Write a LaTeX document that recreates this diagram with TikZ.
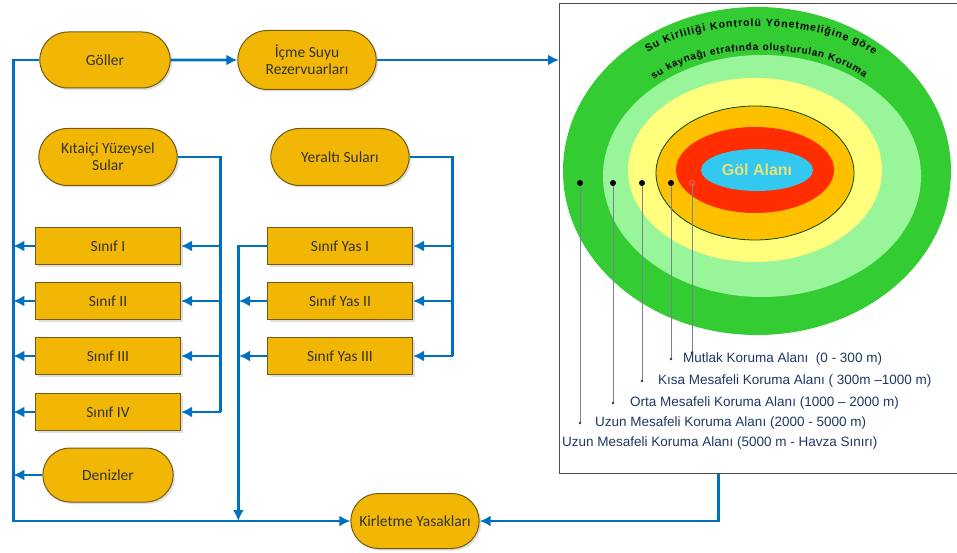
\documentclass[tikz,border=0pt]{standalone}
\usepackage{fontspec}
\setmainfont{Carlito}
\newfontfamily\arialfont{Liberation Sans}
\usepackage{tikz}
\usetikzlibrary{arrows.meta,positioning,calc,shapes.misc,shadows,decorations.text}
\usepackage{xcolor}
\definecolor{flowblue}{RGB}{0,112,192}
\definecolor{boxfill}{RGB}{242,183,5}
\definecolor{boxedge}{RGB}{115,90,20}
\definecolor{darkgreen}{RGB}{51,204,51}
\definecolor{lightgreen}{RGB}{153,245,153}
\definecolor{paleyellow}{RGB}{255,255,125}
\definecolor{ringorange}{RGB}{255,192,0}
\definecolor{ringred}{RGB}{255,45,0}
\definecolor{lakeblue}{RGB}{50,200,240}
\definecolor{lakelabel}{RGB}{232,226,120}
\definecolor{labelblue}{RGB}{31,56,100}
\definecolor{leader}{RGB}{120,130,150}

\begin{document}
\begin{tikzpicture}[x=1pt, y=-1pt,
    pill/.style={rounded rectangle, draw=boxedge, line width=1pt, fill=boxfill, minimum width=#1, minimum height=57pt, font=\fontsize{15.5}{17}\selectfont, text=black!80, align=center, drop shadow={opacity=0.25, shadow xshift=2pt, shadow yshift=-2pt}},
    pill/.default=145pt,
    cls/.style={rectangle, draw=boxedge, line width=1pt, fill=boxfill, minimum width=145pt, minimum height=37pt, font=\fontsize{15.5}{17}\selectfont, text=black!80, drop shadow={opacity=0.25, shadow xshift=2pt, shadow yshift=-2pt}},
    wire/.style={flowblue, line width=2.6pt},
    arr/.style={wire, -{Latex[length=11pt, width=11pt]}},
    lbl/.style={anchor=west, inner sep=0pt, font=\arialfont\fontsize{13.5}{15}\selectfont, text=labelblue},
    lead/.style={leader, line width=0.8pt}
]
\useasboundingbox (0,0) rectangle (957,553);

\node[pill=137pt, minimum height=56pt] (goller) at (105,60) {Göller};
\node[pill, minimum height=59pt] (icme) at (307,60) {İçme Suyu\\Rezervuarları};
\node[pill] (kitaici) at (108,157) {Kıtaiçi Yüzeysel\\Sular};
\node[pill] (yeralti) at (340,157) {Yeraltı Suları};
\node[cls] (s1) at (108,246) {Sınıf I};
\node[cls] (s2) at (108,301) {Sınıf II};
\node[cls] (s3) at (108,356) {Sınıf III};
\node[cls] (s4) at (108,412) {Sınıf IV};
\node[pill=137pt, minimum height=54pt] (deniz) at (108,475) {Denizler};
\node[cls] (y1) at (340,246) {Sınıf Yas I};
\node[cls] (y2) at (340,301) {Sınıf Yas II};
\node[cls] (y3) at (340,356) {Sınıf Yas III};
\node[pill=135pt, minimum height=55pt] (kirlet) at (415,521) {Kirletme Yasakları};

\node[draw=black!70, line width=1.2pt, fill=white, minimum width=402pt, minimum height=470pt, anchor=north west, inner sep=0pt] (zone) at (559,3) {};

\fill[darkgreen] (757,171) ellipse [x radius=194, y radius=164];
\fill[lightgreen] (762,176) ellipse [x radius=159, y radius=121];
\fill[paleyellow] (755,170) ellipse [x radius=127, y radius=92];
\filldraw[fill=ringorange, draw=black!70!green, line width=0.8pt] (755,173) ellipse [x radius=99, y radius=67];
\fill[ringred] (755,170) ellipse [x radius=79, y radius=43];
\fill[lakeblue] (757,170) ellipse [x radius=56, y radius=21];
\node[font=\arialfont\bfseries\fontsize{16}{18}\selectfont, text=lakelabel] (gol) at (757,170) {Göl Alanı};

\path[decorate, decoration={text along path, text align={fit to path},
    text={|\arialfont\bfseries\fontsize{10.5}{12}\selectfont|Su Kirliliği Kontrolü Yönetmeliğine göre}}]
    (648,53) .. controls (700,17) and (820,17) .. (874,55);
\path[decorate, decoration={text along path, text align={fit to path},
    text={|\arialfont\bfseries\fontsize{10}{12}\selectfont|su kaynağı etrafında oluşturulan Koruma}}]
    (654,80) .. controls (702,41) and (818,41) .. (864,78);

\node[lbl] (m1) at (683,359) {Mutlak Koruma Alanı\ \ (0 - 300 m)};
\node[lbl] (m2) at (658,381) {Kısa Mesafeli Koruma Alanı ( 300m –1000 m)};
\node[lbl] (m3) at (630,403) {Orta Mesafeli Koruma Alanı (1000 – 2000 m)};
\node[lbl] (m4) at (595,423) {Uzun Mesafeli Koruma Alanı (2000 - 5000 m)};
\node[lbl] (m5) at (562,443) {Uzun Mesafeli Koruma Alanı (5000 m - Havza Sınırı)};

\coordinate (d1) at (580,183);
\coordinate (d2) at (613,183);
\coordinate (d3) at (642,183);
\coordinate (d4) at (671,183);
\coordinate (d5) at (692,183);
\draw[lead] (d1) -- (d1 |- m4.west);
\draw[lead] (d2) -- (d2 |- m3.west);
\draw[lead] (d3) -- (d3 |- m2.west);
\draw[lead] (d4) -- (d4 |- m1.west);
\draw[lead] (d5) -- (d5 |- m1.north);
\foreach \d in {d1,d2,d3,d4}
  \fill[black] (\d) circle [radius=3];
\draw[red!45!pink, line width=0.8pt] (d5) circle [radius=2.5];
\fill[labelblue] (d1 |- m4.west) circle [radius=1.3];
\fill[labelblue] (d2 |- m3.west) circle [radius=1.3];
\fill[labelblue] (d3 |- m2.west) circle [radius=1.3];
\fill[labelblue] (d4 |- m1.west) circle [radius=1.3];
\fill[labelblue] (d5 |- m1.north) circle [radius=1.3];

\draw[arr] (goller) -- (icme);
\draw[arr] (icme.east) -- (icme.east -| zone.west);

\coordinate (lbus) at ($(goller.west)+(-26,0)$);
\draw[arr] (goller.west) -- (lbus) |- (kirlet.west);
\foreach \n in {s1,s2,s3,s4,deniz}
  \draw[arr] (\n.west) -- (\n.west -| lbus);

\coordinate (kbus) at ($(kitaici.east)+(43,0)$);
\draw[wire] (kitaici.east) -- (kbus) -- (kbus |- s4.east);
\foreach \n in {s1,s2,s3,s4}
  \draw[arr] (kbus |- \n.east) -- (\n.east);

\coordinate (ybus) at ($(yeralti.east)+(43,0)$);
\draw[wire] (yeralti.east) -- (ybus) -- (ybus |- y3.east);
\foreach \n in {y1,y2,y3}
  \draw[arr] (ybus |- \n.east) -- (\n.east);

\coordinate (ydown) at ($(kirlet.west)+(-112,0)$);
\draw[arr] (y1.west) -| (ydown);
\draw[arr] (y2.west) -- ++(-28,0);
\draw[arr] (y3.west) -- ++(-28,0);

\coordinate (zbot) at ($(zone.south)+(-42,0)$);
\draw[arr] (zbot) |- (kirlet.east);
\end{tikzpicture}
\end{document}
